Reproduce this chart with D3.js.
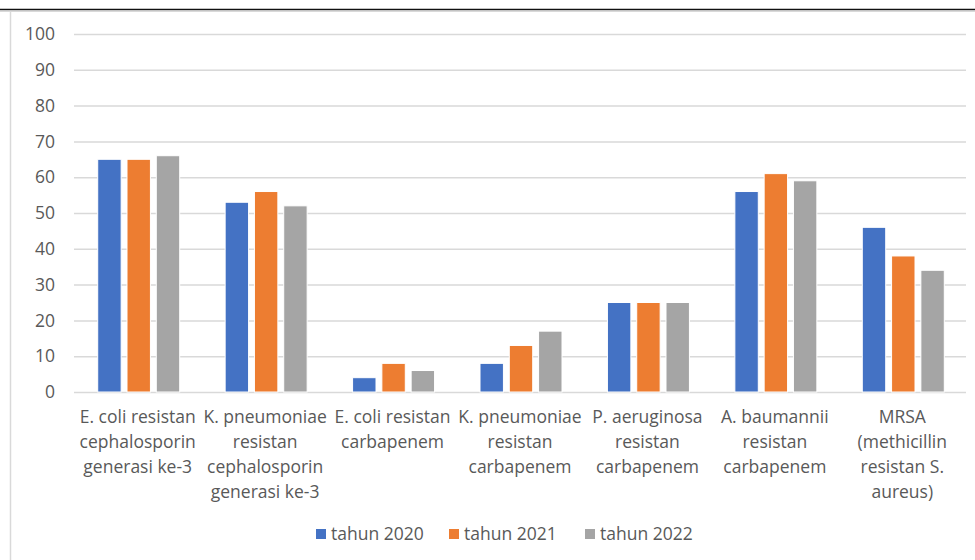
<!DOCTYPE html>
<html>
<head>
<meta charset="utf-8">
<script src="https://cdn.jsdelivr.net/npm/d3@7"></script>
<style>
  html, body { margin: 0; padding: 0; background: #fff; }
  svg { display: block; }
</style>
</head>
<body>
<div id="chart"></div>
<script>
// AMR chart - grouped bars per tahun

const categories = [
  ['E. coli resistan', 'cephalosporin', 'generasi ke-3'],
  ['K. pneumoniae', 'resistan', 'cephalosporin', 'generasi ke-3'],
  ['E. coli resistan', 'carbapenem'],
  ['K. pneumoniae', 'resistan', 'carbapenem'],
  ['P. aeruginosa', 'resistan', 'carbapenem'],
  ['A. baumannii', 'resistan', 'carbapenem'],
  ['MRSA', '(methicillin', 'resistan S.', 'aureus)']
];
const seriesNames = ['tahun 2020', 'tahun 2021', 'tahun 2022'];
const colors = ['#4472C4', '#ED7D31', '#A5A5A5'];
const values2020 = [65, 53, 4, 8, 25, 56, 46];
const values2021 = [65, 56, 8, 13, 25, 61, 38];
const values2022 = [66, 52, 6, 17, 25, 59, 34];
const yTicks = [0, 10, 20, 30, 40, 50, 60, 70, 80, 90, 100];

const series = [values2020, values2021, values2022];
const W = 975, H = 560;
const font = '"Open Sans", sans-serif';
const fs = 17.5;
const textColor = '#595959';

const svg = d3.select('#chart').append('svg')
  .attr('width', W).attr('height', H);

// page edges
svg.append('line').attr('x1', 0).attr('x2', W).attr('y1', 9.5).attr('y2', 9.5)
  .attr('stroke', '#111').attr('stroke-width', 1.5);
svg.append('line').attr('x1', 0).attr('x2', W).attr('y1', 11.5).attr('y2', 11.5)
  .attr('stroke', '#d9d9d9').attr('stroke-width', 1);
svg.append('line').attr('x1', 10.5).attr('x2', 10.5).attr('y1', 11).attr('y2', H)
  .attr('stroke', '#d9d9d9').attr('stroke-width', 1.5);

const x0 = d3.scaleBand().domain(d3.range(categories.length)).range([74, 966]);
const x1 = d3.scaleBand().domain(d3.range(series.length)).range([0, 82]).paddingInner(0.2);
const y = d3.scaleLinear().domain([0, 100]).range([392, 34]);

// grid + y labels
const yAxis = svg.append('g')
  .attr('transform', 'translate(74,0)')
  .call(d3.axisLeft(y).tickValues(yTicks).tickSize(-892).tickPadding(19));
yAxis.select('.domain').remove();
yAxis.selectAll('.tick line').attr('stroke', '#d9d9d9').attr('stroke-width', 1.5);
yAxis.selectAll('.tick text')
  .attr('fill', textColor).attr('font-family', font).attr('font-size', fs);

// bars
const groups = svg.append('g').selectAll('g')
  .data(categories.map((c, i) => i))
  .join('g')
  .attr('transform', i => `translate(${x0(i) + (x0.bandwidth() - 82) / 2 + 1},0)`);

groups.selectAll('rect')
  .data(i => series.map((s, k) => ({ k, v: s[i] })))
  .join('rect')
  .attr('x', d => x1(d.k))
  .attr('width', x1.bandwidth())
  .attr('y', d => y(d.v))
  .attr('height', d => y(0) - y(d.v))
  .attr('fill', d => colors[d.k])
  .attr('stroke', '#fff').attr('stroke-width', 1);

// category labels
const xl = svg.append('g').selectAll('text')
  .data(categories)
  .join('text')
  .attr('x', (c, i) => x0(i) + x0.bandwidth() / 2)
  .attr('y', 423)
  .attr('text-anchor', 'middle')
  .attr('fill', textColor).attr('font-family', font).attr('font-size', fs);
xl.selectAll('tspan')
  .data(d => d)
  .join('tspan')
  .attr('x', function() { return this.parentNode.getAttribute('x'); })
  .attr('dy', (d, j) => j === 0 ? 0 : 25)
  .text(d => d);

// legend
const legendX = [316, 449, 585];
const legend = svg.append('g').selectAll('g')
  .data(seriesNames)
  .join('g')
  .attr('transform', (d, i) => `translate(${legendX[i]},529)`);
legend.append('rect').attr('width', 10).attr('height', 10)
  .attr('fill', (d, i) => colors[i]);
legend.append('text').attr('x', 15).attr('y', 11)
  .attr('fill', textColor).attr('font-family', font).attr('font-size', fs)
  .text(d => d);
</script>
</body>
</html>
